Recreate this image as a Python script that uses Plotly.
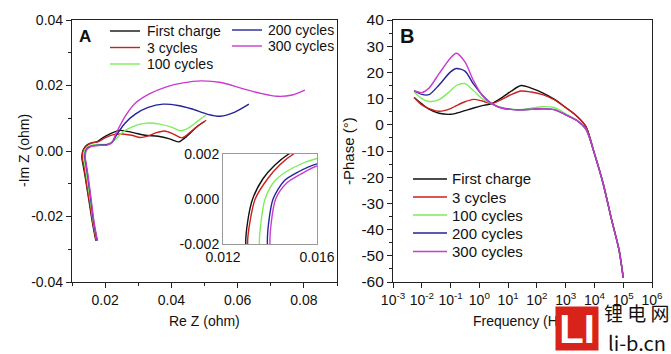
import plotly.graph_objects as go

W, H = 671, 354

names = ["First charge", "3 cycles", "100 cycles", "200 cycles", "300 cycles"]
colors = ["#111111", "#cc1f1f", "#7ded5a", "#23239c", "#c93ccb"]

# ---- Panel A: Nyquist data (Re Z, -Im Z) in ohm ----
re_first = [0.0172, 0.0162, 0.0151, 0.0140, 0.0133, 0.01297, 0.01305, 0.01326, 0.0137, 0.0142, 0.0148,
            0.0158, 0.0175, 0.0200, 0.0245, 0.0285, 0.0320, 0.0360, 0.0395, 0.0422, 0.0450, 0.0478, 0.0500]
im_first = [-0.0274, -0.022, -0.015, -0.008, -0.004, -0.002, -0.001, 0.0, 0.0009, 0.0015, 0.0020,
            0.0025, 0.0028, 0.0045, 0.0063, 0.0056, 0.0048, 0.0045, 0.0037, 0.0028, 0.0048, 0.0075, 0.0090]

re_3 = [0.0173, 0.0163, 0.0152, 0.0141, 0.0135, 0.01305, 0.01315, 0.01337, 0.0139, 0.0144, 0.0150,
        0.0160, 0.0178, 0.0200, 0.0225, 0.0252, 0.0280, 0.0307, 0.0330, 0.0355, 0.0380, 0.0405, 0.0432,
        0.0460, 0.0485, 0.0505]
im_3 = [-0.0274, -0.022, -0.015, -0.008, -0.004, -0.002, -0.001, 0.0, 0.0009, 0.0015, 0.0020,
        0.0025, 0.0028, 0.0040, 0.0050, 0.0052, 0.0048, 0.0041, 0.0046, 0.0056, 0.0061, 0.0052, 0.0040,
        0.0060, 0.0080, 0.0094]

re_100 = [0.0175, 0.0165, 0.0155, 0.0145, 0.0139, 0.01355, 0.01362, 0.01379, 0.0142, 0.0150, 0.0160,
          0.0180, 0.0205, 0.0225, 0.0250, 0.0285, 0.0325, 0.0365, 0.0400, 0.0428, 0.0455, 0.0480, 0.0505]
im_100 = [-0.0274, -0.022, -0.015, -0.008, -0.004, -0.002, -0.001, 0.0, 0.0008, 0.0014, 0.0018,
          0.0020, 0.0021, 0.0030, 0.0055, 0.0075, 0.0085, 0.0082, 0.0073, 0.0062, 0.0072, 0.0092, 0.0110]

re_200 = [0.0176, 0.0166, 0.0157, 0.0148, 0.0142, 0.01389, 0.01395, 0.01413, 0.0146, 0.0152, 0.0160,
          0.0180, 0.0205, 0.0220, 0.0235, 0.0260, 0.0290, 0.0330, 0.0375, 0.0420, 0.0460, 0.0510, 0.0548,
          0.0590, 0.0634]
im_200 = [-0.0274, -0.022, -0.015, -0.008, -0.004, -0.002, -0.001, 0.0, 0.0008, 0.0012, 0.00156,
          0.0018, 0.0019, 0.0025, 0.0050, 0.0085, 0.0112, 0.0133, 0.0143, 0.0139, 0.0129, 0.0112, 0.0106,
          0.0118, 0.0143]

re_300 = [0.0177, 0.0167, 0.0158, 0.0149, 0.0143, 0.0140, 0.01406, 0.01424, 0.0147, 0.0153, 0.0160,
          0.0180, 0.0205, 0.0220, 0.0235, 0.0260, 0.0290, 0.0335, 0.0385, 0.0435, 0.0490, 0.0550, 0.0610,
          0.0670, 0.0720, 0.0765, 0.0803]
im_300 = [-0.0274, -0.022, -0.015, -0.008, -0.004, -0.002, -0.001, 0.0, 0.0007, 0.0011, 0.00147,
          0.0017, 0.0018, 0.0026, 0.0058, 0.0105, 0.0145, 0.0175, 0.0196, 0.0208, 0.0214, 0.0209, 0.0192,
          0.0176, 0.0167, 0.0171, 0.0186]

nyq_re = [re_first, re_3, re_100, re_200, re_300]
nyq_im = [im_first, im_3, im_100, im_200, im_300]

# ---- Panel B: Bode phase data ----
freq = [0.0054, 0.01, 0.0178, 0.0398, 0.1, 0.158, 0.316, 0.631, 1.26, 2.69, 6.31, 12.6, 28.2, 63.1,
        158, 398, 1000, 2510, 5010, 10000, 19950, 39810, 70790, 100000]
ph_first = [10.4, 8.0, 6.0, 4.4, 4.0, 4.4, 5.4, 6.4, 7.3, 8.1, 10.5, 12.8, 15.0, 14.0,
            12.2, 9.8, 6.6, 3.2, -0.6, -11.0, -22.3, -36.4, -47.5, -58.3]
ph_3 = [10.4, 7.6, 6.2, 5.2, 6.2, 7.3, 8.8, 9.7, 9.1, 8.1, 9.8, 11.5, 12.9, 12.5,
        11.5, 9.6, 6.6, 3.2, -0.6, -11.0, -22.3, -36.4, -47.5, -58.3]
ph_100 = [12.5, 10.0, 8.9, 9.6, 13.0, 15.0, 15.7, 13.0, 10.0, 8.1, 6.5, 6.0, 5.8, 6.3,
          6.9, 6.6, 4.2, 1.6, -1.6, -11.0, -22.3, -36.4, -47.5, -58.3]
ph_200 = [13.0, 11.6, 11.5, 15.2, 20.2, 21.5, 20.5, 15.5, 11.4, 8.1, 6.3, 5.9, 5.7, 5.9,
          6.1, 5.8, 3.8, 1.6, -1.6, -11.0, -22.3, -36.4, -47.5, -58.3]
ph_300 = [13.1, 12.3, 14.0, 19.5, 25.5, 27.3, 24.0, 16.8, 11.2, 8.1, 6.3, 5.9, 5.7, 5.9,
          6.1, 5.8, 3.8, 1.6, -1.6, -11.0, -22.3, -36.4, -47.5, -58.3]
phases = [ph_first, ph_3, ph_100, ph_200, ph_300]

# tick labels
a_xticks = [0.02, 0.04, 0.06, 0.08]
a_xtext = ["0.02", "0.04", "0.06", "0.08"]
a_yticks = [-0.04, -0.02, 0.0, 0.02, 0.04]
a_ytext = ["-0.04", "-0.02", "0.00", "0.02", "0.04"]
in_xticks = [0.012, 0.016]
in_xtext = ["0.012", "0.016"]
in_yticks = [-0.002, 0.0, 0.002]
in_ytext = ["-0.002", "0.000", "0.002"]
b_xticks = [1e-3, 1e-2, 1e-1, 1e0, 1e1, 1e2, 1e3, 1e4, 1e5, 1e6]
b_xtext = ["10<sup>-3</sup>", "10<sup>-2</sup>", "10<sup>-1</sup>", "10<sup>0</sup>", "10<sup>1</sup>",
           "10<sup>2</sup>", "10<sup>3</sup>", "10<sup>4</sup>", "10<sup>5</sup>", "10<sup>6</sup>"]
b_yticks = [-60, -50, -40, -30, -20, -10, 0, 10, 20, 30, 40]
b_ytext = [str(v) for v in b_yticks]


def px(x):
    return x / W


def py(y):
    return 1 - y / H


FONT = "Liberation Sans, Arial, sans-serif"
fig = go.Figure()

for i in range(5):
    fig.add_trace(go.Scatter(x=nyq_re[i], y=nyq_im[i], mode="lines", name=names[i],
                             line=dict(color=colors[i], width=1.4, shape="spline", smoothing=0.8),
                             xaxis="x", yaxis="y", showlegend=False, hoverinfo="skip"))
for i in range(5):
    fig.add_trace(go.Scatter(x=nyq_re[i], y=nyq_im[i], mode="lines", name=names[i],
                             line=dict(color=colors[i], width=1.4, shape="spline", smoothing=0.8),
                             xaxis="x3", yaxis="y3", showlegend=False, hoverinfo="skip"))
for i in range(5):
    fig.add_trace(go.Scatter(x=freq, y=phases[i], mode="lines", name=names[i],
                             line=dict(color=colors[i], width=1.4, shape="spline", smoothing=0.8),
                             xaxis="x2", yaxis="y2", showlegend=False, hoverinfo="skip"))

axcommon = dict(showline=True, linecolor="#222222", linewidth=1.2, mirror=True, showgrid=False,
                zeroline=False, ticks="outside", ticklen=5, tickwidth=1, tickcolor="#222222",
                automargin=False)

fig.update_layout(
    width=W, height=H, margin=dict(l=0, r=0, t=0, b=0, autoexpand=False),
    paper_bgcolor="white", plot_bgcolor="rgba(0,0,0,0)", showlegend=False,
    font=dict(family=FONT, color="#111111", size=14),
    xaxis=dict(domain=[px(72), px(337)], range=[0.01, 0.09], anchor="y",
               tickvals=a_xticks, ticktext=a_xtext, tickfont=dict(size=14),
               minor=dict(tickvals=[0.01, 0.03, 0.05, 0.07, 0.09], ticks="outside", ticklen=3,
                          tickcolor="#222222"), **axcommon),
    yaxis=dict(domain=[py(282), py(20)], range=[-0.04, 0.04], anchor="x",
               tickvals=a_yticks, ticktext=a_ytext, tickfont=dict(size=14),
               minor=dict(tickvals=[-0.03, -0.01, 0.01, 0.03], ticks="outside", ticklen=3,
                          tickcolor="#222222"), **axcommon),
    xaxis2=dict(domain=[px(393), px(652)], type="log", range=[-3, 6], anchor="y2",
                tickvals=b_xticks, ticktext=b_xtext, tickfont=dict(size=14), **axcommon),
    yaxis2=dict(domain=[py(282), py(20)], range=[-60, 40], anchor="x2",
                tickvals=b_yticks, ticktext=b_ytext, tickfont=dict(size=15.5),
                minor=dict(tickvals=list(range(-55, 40, 10)), ticks="outside", ticklen=3,
                           tickcolor="#222222"), **axcommon),
    xaxis3=dict(domain=[px(223), px(317)], range=[0.012, 0.016], anchor="y3",
                tickvals=in_xticks, ticktext=in_xtext, tickfont=dict(size=14),
                showline=True, linecolor="#9a9a9a", linewidth=1, mirror=True, showgrid=False,
                zeroline=False, ticks="", automargin=False),
    yaxis3=dict(domain=[py(244), py(154)], range=[-0.002, 0.002], anchor="x3",
                tickvals=in_yticks, ticktext=in_ytext, tickfont=dict(size=14),
                showline=True, linecolor="#9a9a9a", linewidth=1, mirror=True, showgrid=False,
                zeroline=False, ticks="", automargin=False),
)

shapes = []
annotations = []

# Panel A legend (two columns)
legA = [(110, 140, 145, 31), (110, 140, 145, 47.5), (110, 140, 145, 64),
        (232, 262, 266, 30), (232, 262, 266, 46)]
for i, (x0, x1, xt, yy) in enumerate(legA):
    shapes.append(dict(type="line", xref="paper", yref="paper", x0=px(x0), x1=px(x1),
                       y0=py(yy), y1=py(yy), line=dict(color=colors[i], width=1.4)))
    annotations.append(dict(text=names[i], xref="paper", yref="paper", x=px(xt), y=py(yy),
                            xanchor="left", yanchor="middle", showarrow=False,
                            font=dict(size=14)))

# Panel B legend
legB_y = [179, 197, 215, 233, 251.5]
for i, yy in enumerate(legB_y):
    shapes.append(dict(type="line", xref="paper", yref="paper", x0=px(413), x1=px(447),
                       y0=py(yy), y1=py(yy), line=dict(color=colors[i], width=1.4)))
    annotations.append(dict(text=names[i], xref="paper", yref="paper", x=px(450), y=py(yy),
                            xanchor="left", yanchor="middle", showarrow=False,
                            font=dict(size=15)))

# panel letters
annotations.append(dict(text="<b>A</b>", xref="paper", yref="paper", x=px(84.5), y=py(36.5),
                        xanchor="center", yanchor="middle", showarrow=False, font=dict(size=17)))
annotations.append(dict(text="<b>B</b>", xref="paper", yref="paper", x=px(407), y=py(36),
                        xanchor="center", yanchor="middle", showarrow=False, font=dict(size=20)))

# axis titles
annotations.append(dict(text="-Im Z (ohm)", xref="paper", yref="paper", x=px(24), y=py(151),
                        xanchor="center", yanchor="middle", showarrow=False, textangle=-90,
                        font=dict(size=14)))
annotations.append(dict(text="Re Z (ohm)", xref="paper", yref="paper", x=px(204), y=py(321),
                        xanchor="center", yanchor="middle", showarrow=False, font=dict(size=14)))
annotations.append(dict(text="-Phase (\u00b0)", xref="paper", yref="paper", x=px(348), y=py(151),
                        xanchor="center", yanchor="middle", showarrow=False, textangle=-90,
                        font=dict(size=15)))
annotations.append(dict(text="Frequency (Hz)", xref="paper", yref="paper", x=px(521), y=py(321),
                        xanchor="center", yanchor="middle", showarrow=False, font=dict(size=14)))

# watermark
annotations.append(dict(text="<b>LI</b>", xref="paper", yref="paper", x=px(577), y=py(328.5),
                        xanchor="center", yanchor="middle", showarrow=False, width=42, height=43,
                        bgcolor="#d8231b", borderpad=0,
                        font=dict(size=40, color="white", family=FONT)))
annotations.append(dict(text="锂 电 网", xref="paper", yref="paper", x=px(637), y=py(312),
                        xanchor="center", yanchor="middle", showarrow=False,
                        font=dict(size=19, color="#111111", family="Noto Sans CJK SC")))
annotations.append(dict(text="li-b.cn", xref="paper", yref="paper", x=px(637), y=py(342),
                        xanchor="center", yanchor="middle", showarrow=False,
                        font=dict(size=20, color="#111111", family="Noto Sans CJK SC")))

fig.update_layout(shapes=shapes, annotations=annotations)
fig.write_html("out.html")
